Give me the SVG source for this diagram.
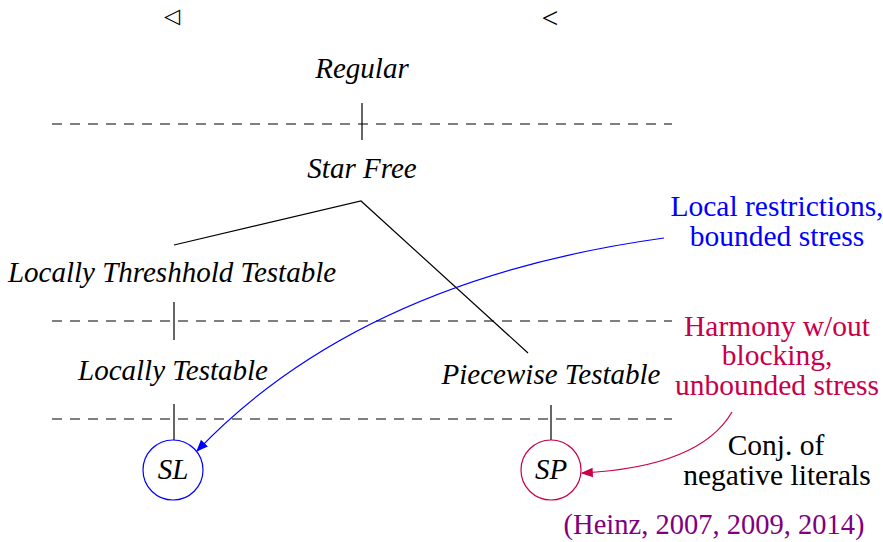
<svg xmlns="http://www.w3.org/2000/svg" width="883" height="542" viewBox="0 0 883 542">
<style>
text{font-family:"Liberation Serif","Times New Roman","DejaVu Serif",serif}
.it{font-style:italic;font-size:29px;fill:#000;text-anchor:middle}
.rm{font-size:29.5px;text-anchor:middle}
.dash{stroke:#000;stroke-width:1.2;stroke-dasharray:10,8;fill:none}
.ln{stroke:#000;stroke-width:1.2;fill:none}
</style>
<defs>
<marker id="ab" viewBox="0 0 10 10" refX="9" refY="5" markerWidth="12" markerHeight="12" markerUnits="userSpaceOnUse" orient="auto"><path d="M0,1 L10,5 L0,9 Z" fill="#0000ff"/></marker>
<marker id="ar" viewBox="0 0 10 10" refX="9" refY="5" markerWidth="12" markerHeight="12" markerUnits="userSpaceOnUse" orient="auto"><path d="M0,1 L10,5 L0,9 Z" fill="#c8004a"/></marker>
</defs>
<rect width="883" height="542" fill="#fff"/>
<g id="symbols">
<text x="172" y="23" text-anchor="middle" style="font-size:21px">◁</text>
<text x="550" y="28" text-anchor="middle" style="font-size:30px">&lt;</text>
</g>
<g id="levels">
<line class="dash" x1="52" y1="124" x2="672" y2="124"/>
<line class="dash" x1="52" y1="321" x2="672" y2="321"/>
<line class="dash" x1="52" y1="419" x2="672" y2="419"/>
</g>
<g id="connectors">
<line class="ln" x1="362" y1="103" x2="362" y2="140"/>
<polyline class="ln" points="174,245 361,201 528,353"/>
<line class="ln" x1="174" y1="302" x2="174" y2="340"/>
<line class="ln" x1="174" y1="404" x2="174" y2="440"/>
<line class="ln" x1="551" y1="405" x2="551" y2="440"/>
<path d="M664,238 Q360,280 197,451" stroke="#0000ff" stroke-width="1.2" fill="none" marker-end="url(#ab)"/>
<path d="M732,412 Q700,467 582,473" stroke="#c8004a" stroke-width="1.2" fill="none" marker-end="url(#ar)"/>
</g>
<g id="regular"><text x="362" y="78" class="it">Regular</text></g>
<g id="starfree"><text x="362" y="178" class="it">Star Free</text></g>
<g id="ltt"><text x="172" y="282" class="it">Locally Threshhold Testable</text></g>
<g id="lt"><text x="173" y="380" class="it">Locally Testable</text></g>
<g id="pt"><text x="551" y="384" class="it">Piecewise Testable</text></g>
<g id="SL"><circle cx="173" cy="470" r="30" fill="none" stroke="#0000ff" stroke-width="1.2"/><text x="173" y="479" class="it">SL</text></g>
<g id="SP"><circle cx="551" cy="470" r="30" fill="none" stroke="#c8004a" stroke-width="1.2"/><text x="551" y="479" class="it">SP</text></g>
<g id="local" fill="#0000ff"><text x="777" y="216" class="rm">Local restrictions,</text><text x="777" y="246" class="rm">bounded stress</text></g>
<g id="harmony" fill="#c8004a"><text x="777" y="336" class="rm">Harmony w/out</text><text x="777" y="365" class="rm">blocking,</text><text x="777" y="395" class="rm">unbounded stress</text></g>
<g id="conj" fill="#000"><text x="776" y="455" class="rm">Conj. of</text><text x="777" y="485" class="rm">negative literals</text></g>
<g id="heinz" fill="#800080"><text x="714" y="534" class="rm" style="font-size:28.5px">(Heinz, 2007, 2009, 2014)</text></g>
</svg>
